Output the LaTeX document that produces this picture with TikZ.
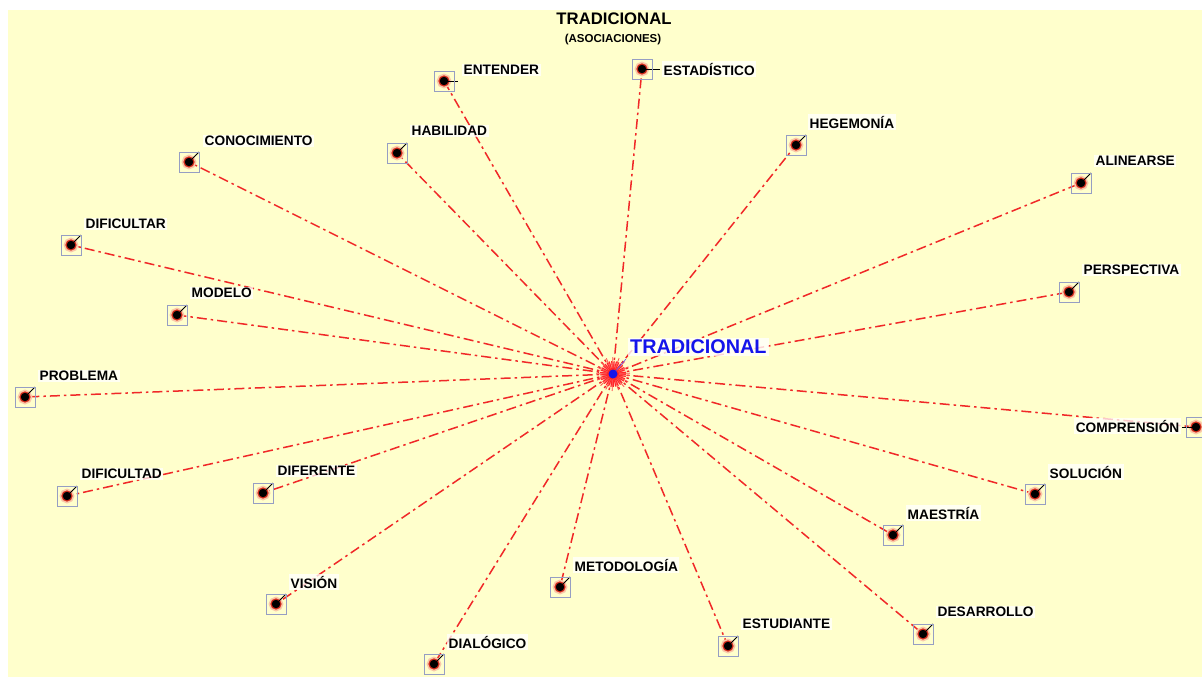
\documentclass[tikz,border=0pt]{standalone}
\usepackage{fontspec}
\setmainfont{Liberation Sans}
\usetikzlibrary{calc}
\definecolor{bgyel}{RGB}{255,255,204}
\definecolor{linered}{RGB}{240,40,40}
\definecolor{sqgray}{RGB}{150,158,195}
\definecolor{tblue}{RGB}{20,20,235}
\definecolor{halo}{RGB}{250,200,170}
\definecolor{ring}{RGB}{215,45,30}
\pgfdeclarelayer{back}
\pgfdeclarelayer{lines}
\pgfsetlayers{back,lines,main}
\tikzset{
  sqbox/.style={draw=sqgray, line width=0.9pt, minimum size=20pt, inner sep=0pt},
  glowdot/.style={circle, fill=black, minimum size=8.5pt, inner sep=0pt,
    preaction={fill=halo, draw=halo, line width=6pt},
    preaction={draw=ring, line width=2.6pt}},
  lbl/.style={font=\bfseries\fontsize{13.7}{15}\selectfont, fill=white, fill opacity=0.75, text opacity=1, inner sep=1.5pt},
  conn/.style={linered, line width=1.5pt, dash pattern=on 10pt off 4pt on 2.5pt off 4pt},
  tick/.style={black, line width=0.9pt},
}
\begin{document}
\begin{tikzpicture}[x=1pt,y=-1pt]
\useasboundingbox (0,0) rectangle (1202,677);
\begin{pgfonlayer}{back}
\fill[white] (0,0) rectangle (1202,677);
\fill[bgyel] (8,10) rectangle (1202,677);
\end{pgfonlayer}
% title
\node[font=\bfseries\fontsize{16.7}{18}\selectfont] (title) at (614,19) {TRADICIONAL};
\node[font=\bfseries\fontsize{11.5}{12}\selectfont] (subtitle) at (613,40) {(ASOCIACIONES)};
% centre
\coordinate (c) at (613,374);
\foreach \n/\x/\y/\t/\lx/\ly/\an/\tx/\ty in {
  entender/444/81/ENTENDER/18/-11/west/14/0,
  estadistico/642/69/ESTADÍSTICO/20/0/west/18/0,
  hegemonia/796/145/HEGEMONÍA/12/-23/west/10/-10,
  alinearse/1081/183/ALINEARSE/13/-22/west/10/-10,
  perspectiva/1069/292/PERSPECTIVA/13/-22/west/10/-10,
  comprension/1196/427/COMPRENSIÓN/-15/-1/east/-14/0,
  solucion/1035/494/SOLUCIÓN/13/-22/west/10/-10,
  maestria/893/535/MAESTRÍA/13/-22/west/10/-10,
  desarrollo/923/634/DESARROLLO/13/-22/west/10/-10,
  estudiante/728/646/ESTUDIANTE/13/-22/west/10/-10,
  metodologia/560/587/METODOLOGÍA/13/-22/west/10/-10,
  dialogico/434/664/DIALÓGICO/13/-22/west/10/-10,
  vision/276/604/VISIÓN/13/-22/west/10/-10,
  diferente/263/493/DIFERENTE/13/-22/west/10/-10,
  dificultad/67/496/DIFICULTAD/13/-22/west/10/-10,
  problema/25/397/PROBLEMA/13/-21/west/10/-10,
  modelo/177/315/MODELO/13/-22/west/10/-10,
  dificultar/71/245/DIFICULTAR/13/-21/west/10/-10,
  conocimiento/189/162/CONOCIMIENTO/14/-21/west/10/-10,
  habilidad/397/153/HABILIDAD/13/-22/west/10/-10}{
  \node[sqbox] (\n) at (\x,\y) {};
  \coordinate (\n-t) at ($(\n.center)+(\tx,\ty)$);
  \node[lbl, anchor=\an] (\n-l) at ($(\n.center)+(\lx,\ly)$) {\t};
  \begin{pgfonlayer}{lines}
  \draw[conn] (c) -- (\n.center);
  \node[glowdot] (\n-d) at (\n.center) {};
  \draw[tick] (\n.center) -- (\n-t);
  \end{pgfonlayer}
}
% centre starburst
\begin{pgfonlayer}{lines}
\fill[red!35, opacity=0.6] (c) circle (12);
\foreach \a in {0,11,...,359}{
  \draw[red!85, line width=1.1pt] ($(c)+(\a:4)$) -- ($(c)+(\a:13)$);
}
\foreach \a in {5,27,...,359}{
  \draw[red!70, line width=0.8pt] ($(c)+(\a:6)$) -- ($(c)+(\a:17)$);
}
\end{pgfonlayer}
\coordinate (ct) at (626,359);
\draw[tblue!70, line width=0.6pt] (c) -- (ct);
\node[circle, fill=tblue, minimum size=9pt, inner sep=0pt] (cdot) at (c) {};
\node[anchor=west, font=\bfseries\fontsize{19.8}{21}\selectfont, text=tblue, fill=white, fill opacity=0.8, text opacity=1, inner sep=2pt] (clbl) at (628,347) {TRADICIONAL};
\end{tikzpicture}
\end{document}
